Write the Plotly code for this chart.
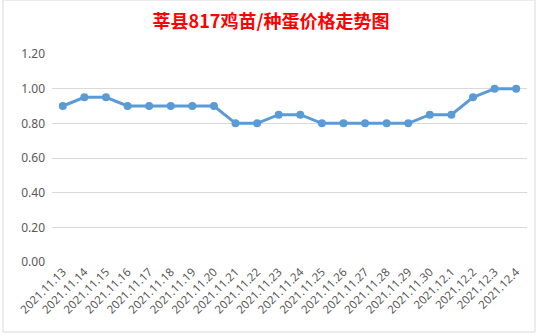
import plotly.graph_objects as go

dates = ["2021.11.13", "2021.11.14", "2021.11.15", "2021.11.16", "2021.11.17", "2021.11.18",
         "2021.11.19", "2021.11.20", "2021.11.21", "2021.11.22", "2021.11.23", "2021.11.24",
         "2021.11.25", "2021.11.26", "2021.11.27", "2021.11.28", "2021.11.29", "2021.11.30",
         "2021.12.1", "2021.12.2", "2021.12.3", "2021.12.4"]
prices = [0.90, 0.95, 0.95, 0.90, 0.90, 0.90, 0.90, 0.90, 0.80, 0.80, 0.85, 0.85,
          0.80, 0.80, 0.80, 0.80, 0.80, 0.85, 0.85, 0.95, 1.00, 1.00]
title_text = "莘县817鸡苗/种蛋价格走势图"

W, H = 543, 336
ml, mr, mt, mb = 52, 16, 54, 74
pw = W - ml - mr
ph = H - mt - mb

fig = go.Figure()
fig.add_trace(go.Scatter(
    x=dates, y=prices, mode="lines+markers",
    line=dict(color="#5B9BD5", width=3),
    marker=dict(color="#5B9BD5", size=8),
    cliponaxis=False,
))

fig.update_layout(
    width=W, height=H,
    margin=dict(l=ml, r=mr, t=mt, b=mb, autoexpand=False),
    paper_bgcolor="white", plot_bgcolor="white",
    showlegend=False,
    title=dict(text="<b>" + title_text + "</b>", x=271 / W, xanchor="center", xref="container",
               y=1 - 22 / H, yanchor="middle",
               font=dict(family="Noto Sans CJK SC, sans-serif", size=18, color="#FF0000")),
    font=dict(family="Noto Sans, sans-serif", color="#595959"),
    shapes=[dict(type="rect", xref="paper", yref="paper",
                 x0=(3 - ml) / pw, x1=(535 - ml) / pw,
                 y0=-(332 - mt - ph) / ph, y1=(ph + mt) / ph,
                 line=dict(color="#D9D9D9", width=1), fillcolor="rgba(0,0,0,0)", layer="below")],
)
fig.update_xaxes(type="category", range=[-0.5, len(dates) - 0.5], tickangle=-45,
                 showgrid=False, showline=False, automargin=False,
                 ticks="", tickfont=dict(size=11.5, color="#595959"), zeroline=False)
fig.update_yaxes(range=[0, 1.2], dtick=0.2, tickformat=".2f", showgrid=True, automargin=False,
                 gridcolor="#D9D9D9", gridwidth=1, zeroline=False, showline=False,
                 ticks="", ticklen=0, ticklabelstandoff=6,
                 tickfont=dict(size=12, color="#595959"))

fig.write_html("out.html")
